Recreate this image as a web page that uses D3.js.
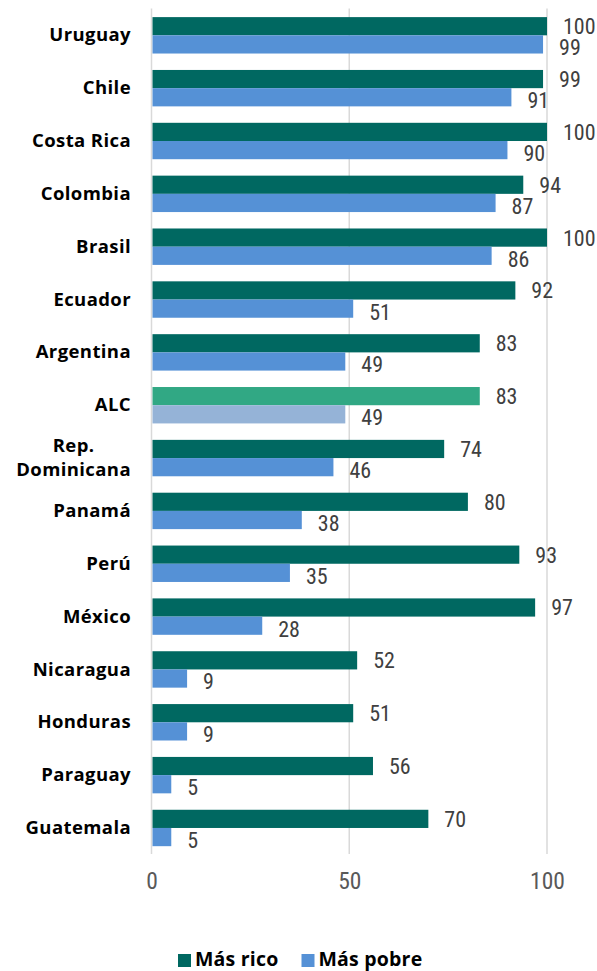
<!DOCTYPE html>
<html>
<head>
<meta charset="utf-8">
<script src="https://cdn.jsdelivr.net/npm/d3@7"></script>
<style>
  body { margin: 0; background: #fff; }
  .cat { font-family: "Open Sans", sans-serif; font-weight: 700; font-size: 18.5px; letter-spacing: 0.4px; fill: #000; }
  .val { font-family: "Roboto Condensed", "Liberation Sans Narrow", Roboto, sans-serif; font-size: 22px; fill: #404040; }
  .tick text { font-family: "Roboto Condensed", "Liberation Sans Narrow", Roboto, sans-serif; font-size: 23.5px; fill: #595959; }
  .legend text { font-family: "Open Sans", sans-serif; font-weight: 700; font-size: 19.5px; letter-spacing: 0.2px; fill: #000; }
</style>
</head>
<body>
<div class="chart"></div>
<script>
// Data
var countries = ["Uruguay", "Chile", "Costa Rica", "Colombia", "Brasil", "Ecuador", "Argentina", "ALC",
  "Rep. Dominicana", "Panamá", "Perú", "México", "Nicaragua", "Honduras", "Paraguay", "Guatemala"];
var masRico = [100, 99, 100, 94, 100, 92, 83, 83, 74, 80, 93, 97, 52, 51, 56, 70];
var masPobre = [99, 91, 90, 87, 86, 51, 49, 49, 46, 38, 35, 28, 9, 9, 5, 5];
var seriesNames = ["Más rico", "Más pobre"];
var xTicks = [0, 50, 100];

var svgWidth = 597;
var svgHeight = 971;

var margin = { top: 8.5, right: 50, bottom: 117, left: 151.5 };
var width = 547 - margin.left;
var height = svgHeight - margin.top - margin.bottom;

var colors = { rico: "#006861", pobre: "#5591D6" };
var colorsALC = { rico: "#31A884", pobre: "#95B3D7" };

var svg = d3.select(".chart")
  .append("svg")
  .attr("width", svgWidth)
  .attr("height", svgHeight);

var chart = svg.append("g")
  .attr("transform", `translate(${margin.left}, ${margin.top})`);

var x = d3.scaleLinear().domain([0, 100]).range([0, width]);
var y = d3.scaleBand().domain(countries).range([0, height]).padding(0);
var sub = d3.scaleBand().domain(["rico", "pobre"])
  .range([y.bandwidth() * 0.163, y.bandwidth() * 0.852]);

var rows = countries.map(function(c, i) {
  return { name: c, rico: masRico[i], pobre: masPobre[i] };
});

// gridlines
chart.selectAll(".grid")
  .data(xTicks)
  .enter().append("line")
  .attr("x1", function(d) { return x(d); })
  .attr("x2", function(d) { return x(d); })
  .attr("y1", 0)
  .attr("y2", height)
  .attr("stroke", "#D9D9D9")
  .attr("stroke-width", 1.5);

// x axis
var xAxis = d3.axisBottom(x).tickValues(xTicks).tickSize(0).tickPadding(18);
chart.append("g")
  .attr("transform", `translate(0,${height})`)
  .call(xAxis)
  .call(function(g) { g.select(".domain").remove(); });

// bars
var groups = chart.selectAll(".row")
  .data(rows)
  .enter().append("g")
  .attr("transform", function(d) { return `translate(0,${y(d.name)})`; });

["rico", "pobre"].forEach(function(k) {
  groups.append("rect")
    .attr("x", x(0) + 1)
    .attr("y", sub(k))
    .attr("width", function(d) { return x(d[k]) - x(0) - 1; })
    .attr("height", sub.bandwidth())
    .attr("fill", function(d) { return d.name === "ALC" ? colorsALC[k] : colors[k]; });

  groups.append("text")
    .attr("class", "val")
    .attr("x", function(d) { return x(d[k]) + 16; })
    .attr("y", sub(k) + sub.bandwidth() / 2 + (k === "pobre" ? 3 : 0))
    .attr("dy", "0.36em")
    .text(function(d) { return d[k]; });
});

// category labels
groups.each(function(d) {
  var t = d3.select(this).append("text")
    .attr("class", "cat")
    .attr("text-anchor", "end")
    .attr("x", -20.5)
    .attr("y", y.bandwidth() / 2)
    .attr("dy", "0.35em");
  if (d.name === "Rep. Dominicana") {
    var top = t.append("tspan").attr("dy", "-0.28em").text("Rep.");
    var bot = t.append("tspan").attr("x", -20.5).attr("dy", "1.25em").text("Dominicana");
    var wb = bot.node().getComputedTextLength();
    var wt = top.node().getComputedTextLength();
    top.attr("x", -20.5 - wb / 2 + wt / 2);
  } else {
    t.text(d.name);
  }
});

// legend
var legend = svg.append("g").attr("class", "legend");
var legendX = [178, 301.5];
seriesNames.forEach(function(name, i) {
  var k = i === 0 ? "rico" : "pobre";
  legend.append("rect")
    .attr("x", legendX[i])
    .attr("y", 954)
    .attr("width", 13)
    .attr("height", 13)
    .attr("fill", colors[k]);
  legend.append("text")
    .attr("x", legendX[i] + 17)
    .attr("y", 966)
    .text(name);
});
</script>
</body>
</html>
